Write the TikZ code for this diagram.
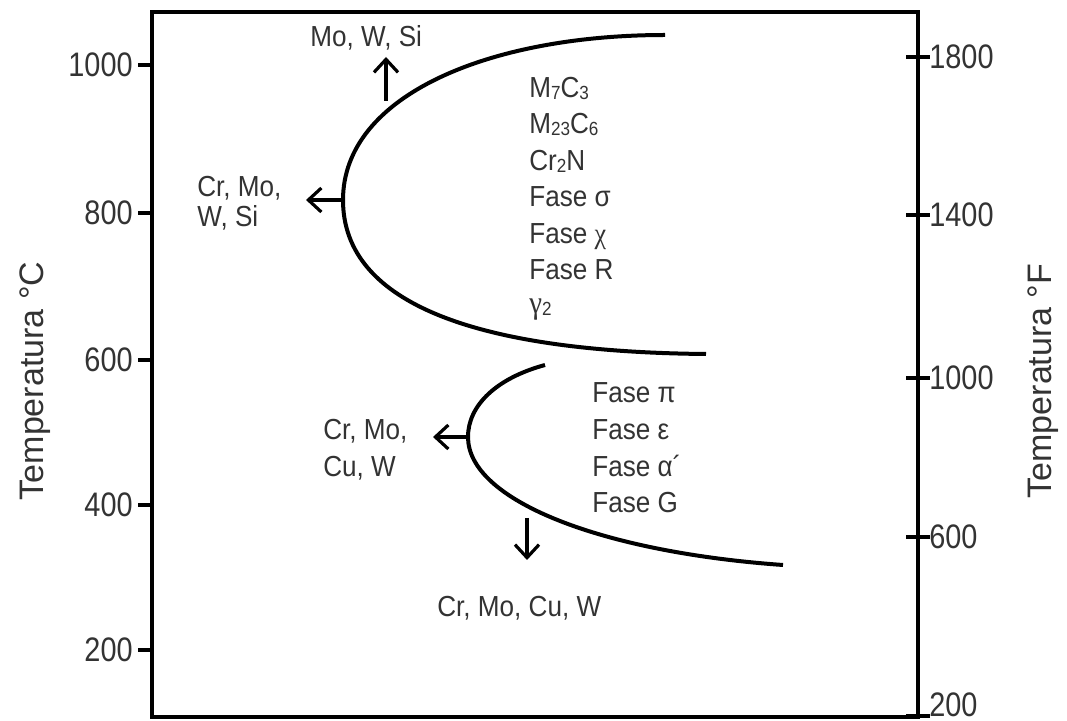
\documentclass[tikz,border=0pt]{standalone}
\usepackage{fontspec}
\setmainfont{Liberation Sans}
\newfontfamily\greekserif{Liberation Serif}
\usetikzlibrary{arrows.meta}
\definecolor{labelgray}{HTML}{333333}
\newcommand{\smallsub}[1]{\raisebox{-0.6pt}{\fontsize{9.5}{9.5}\selectfont #1}}

\begin{document}
\begin{tikzpicture}[x=0.5pt,y=-0.5pt,
  frame/.style={line width=2pt},
  curve/.style={line width=2pt},
  tickmark/.style={line width=1.6pt},
  flow/.style={line width=1.6pt,-{Straight Barb[length=6.5pt,width=12pt,line width=1.6pt]}},
  ticklabel/.style={font=\fontsize{17}{17}\selectfont, text=labelgray, inner sep=0pt, xscale=0.85},
  axistitle/.style={font=\fontsize{17}{17}\selectfont, text=labelgray, rotate=90, inner sep=0pt},
  phase/.style={font=\fontsize{14.5}{14.5}\selectfont, text=labelgray, inner sep=0pt, anchor=base west, xscale=0.9},
  ]
\useasboundingbox (0,0) rectangle (1067,721);

% plot frame
\draw[frame] (152,12) rectangle (918,717);

% Celsius scale (left)
\foreach \y/\t [count=\i] in {65/1000,213/800,360/600,505/400,650/200}{
  \draw[tickmark] (138,\y) -- (154,\y);
  \node[ticklabel, anchor=east] (c\i) at (133,\y) {\t};
}
% Fahrenheit scale (right)
\foreach \y/\t [count=\i] in {57/1800,215/1400,378/1000,537/600}{
  \draw[tickmark] (906,\y) -- (930,\y);
  \node[ticklabel, anchor=west] (f\i) at (929,\y) {\t};
}
\draw[tickmark] (906,716) -- (930,716);
\node[ticklabel, anchor=west] (f5) at (929,705) {200};

\node[axistitle] (tc) at (35,381) {Temperatura °C};
\node[axistitle] (tf) at (1043,381) {Temperatura °F};

% upper precipitation curve
\coordinate (u0) at (665,35);
\coordinate (unose) at (343,200);
\coordinate (u1) at (706,354);
\draw[curve] (u0) .. controls (490,35) and (343,95) .. (unose)
                  .. controls (343,305) and (480,352) .. (u1);

% lower precipitation curve
\coordinate (l0) at (545,365);
\coordinate (lnose) at (468,437);
\coordinate (l1) at (783,565);
\draw[curve] (l0) .. controls (497,378) and (468,405) .. (lnose)
                  .. controls (468,500) and (600,552) .. (l1);

% alloying element shifts
\coordinate (utop) at (386,101);
\coordinate (utopend) at (386,57);
\coordinate (unoseend) at (306,200);
\coordinate (lnoseend) at (433,437);
\coordinate (lbot) at (527,518);
\coordinate (lbotend) at (527,560);
\draw[flow] (utop) -- (utopend);
\draw[flow] (unose) -- (unoseend);
\draw[flow] (lnose) -- (lnoseend);
\draw[flow] (lbot) -- (lbotend);

\node[phase] (e1) at (310,47) {Mo, W, Si};
\node[phase] (e2a) at (197,197) {Cr, Mo,};
\node[phase] (e2b) at (197,227) {W, Si};
\node[phase] (e3a) at (323,440) {Cr, Mo,};
\node[phase] (e3b) at (323,477) {Cu, W};
\node[phase] (e4) at (437,617) {Cr, Mo, Cu, W};

% phases of the upper curve
\node[phase] (p1) at (529,98) {M\smallsub{7}C\smallsub{3}};
\node[phase] (p2) at (529,134) {M\smallsub{23}C\smallsub{6}};
\node[phase] (p3) at (529,171) {Cr\smallsub{2}N};
\node[phase] (p4) at (529,207) {Fase σ};
\node[phase] (p5) at (529,244) {Fase {\greekserif χ}};
\node[phase] (p6) at (529,280) {Fase R};
\node[phase] (p7) at (529,314) {{\greekserif\fontsize{16}{16}\selectfont γ}\smallsub{2}};

% phases of the lower curve
\node[phase] (q1) at (592,403) {Fase π};
\node[phase] (q2) at (592,440) {Fase ε};
\node[phase] (q3) at (592,477) {Fase α´};
\node[phase] (q4) at (592,513) {Fase G};
\end{tikzpicture}
\end{document}
